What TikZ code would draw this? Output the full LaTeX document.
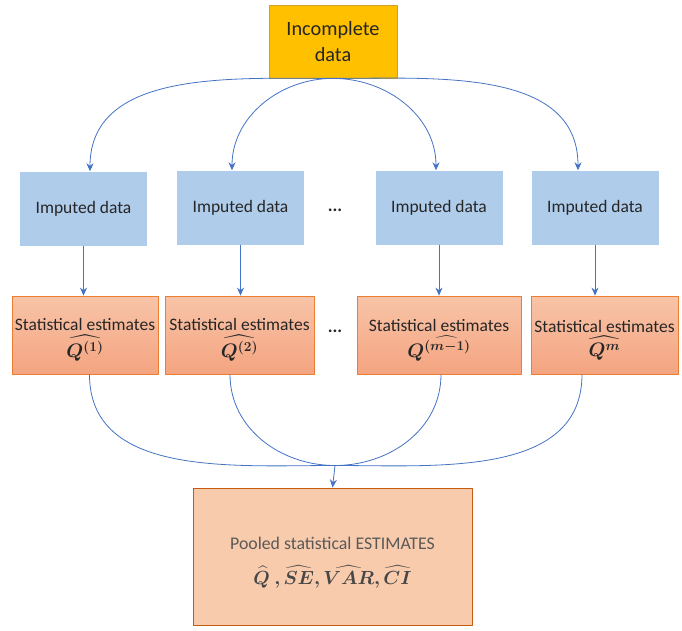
\RequirePackage{fix-cm}
\documentclass[tikz,border=0pt]{standalone}
\usepackage{amsmath,bm}
\usepackage{fontspec}
\setmainfont{Carlito}
\usetikzlibrary{arrows.meta}
\definecolor{flowblue}{HTML}{4472C4}
\definecolor{imputedfill}{HTML}{AFCCEA}
\definecolor{sourcegold}{HTML}{FFC000}
\definecolor{sourceedge}{HTML}{C9A227}
\definecolor{estimtop}{HTML}{F8C4A8}
\definecolor{estimbottom}{HTML}{F4A480}
\definecolor{estimedge}{HTML}{ED7D31}
\definecolor{pooledfill}{HTML}{F8CBAD}
\definecolor{pooledge}{HTML}{C55A11}
\definecolor{boxtext}{HTML}{262626}
\definecolor{pooledtext}{HTML}{595959}

\newcommand{\estmath}[1]{{\fontsize{19.5}{22}\selectfont$\bm{#1}$}}

\begin{document}
\begin{tikzpicture}[
  x=1pt,
  y=-1pt,
  line join=round,
  every node/.style={font=\fontsize{17.5}{21}\selectfont,text=boxtext,align=center,inner sep=0pt},
  source/.style={fill=sourcegold,draw=sourceedge,line width=0.8pt,minimum width=128pt,minimum height=73pt,font=\fontsize{20.3}{26}\selectfont},
  imputed/.style={fill=imputedfill,draw=none,minimum width=127pt,minimum height=73pt},
  estim/.style={top color=estimtop,bottom color=estimbottom,draw=estimedge,line width=0.8pt,minimum height=78pt},
  pooled/.style={fill=pooledfill,draw=pooledge,line width=0.9pt,minimum width=279pt,minimum height=137pt,text=pooledtext,font=\fontsize{17.8}{21}\selectfont},
  gap/.style={font=\fontsize{18}{20}\bfseries\selectfont},
  flow/.style={draw=flowblue,line width=0.8pt,-{Stealth[length=8pt,width=7pt]}},
  merge/.style={draw=flowblue,line width=0.8pt}
]
  \useasboundingbox (0,0) rectangle (682,631);

  % Source data.
  \node[source] (source) at (333,41.5) {Incomplete\\data};

  % Imputed data sets.
  \node[imputed] (imp1) at (83.5,209) {Imputed data};
  \node[imputed] (imp2) at (240.5,208) {Imputed data};
  \node[imputed] (imp3) at (439,208) {Imputed data};
  \node[imputed] (imp4) at (595,208) {Imputed data};
  \node[gap] (impgap) at (335,210) {...};

  % Estimates per imputed set.
  \node[estim,minimum width=146pt] (est1) at (85,335)
    {\rule{0pt}{22pt}Statistical estimates\\[3pt] \estmath{\widehat{Q^{(1)}}}};
  \node[estim,minimum width=149pt] (est2) at (239.5,335)
    {\rule{0pt}{22pt}Statistical estimates\\[3pt] \estmath{\widehat{Q^{(2)}}}};
  \node[estim,minimum width=164pt] (est3) at (439,335)
    {\rule{0pt}{22pt}Statistical estimates\\[3pt] \estmath{Q^{\widehat{(m-1)}}}};
  \node[estim,minimum width=147pt] (est4) at (604.5,335)
    {\rule{0pt}{22pt}Statistical estimates\\[3pt] \estmath{\widehat{Q^{m}}}};
  \node[gap] (estgap) at (335,331) {...};

  % Pooled result.
  \node[pooled] (pool) at (332.5,556.5)
    {\rule{0pt}{24pt}Pooled statistical ESTIMATES\\[14pt]
     {\fontsize{19}{22}\selectfont\color{boxtext!85}$\bm{\widehat{Q}\ ,\widehat{SE},\widehat{VAR},\widehat{CI}}$}};
  \coordinate (join) at (335,465.5);

  % Imputation arrows fan out of the source box.
  \foreach \i/\dx in {1/6.5,2/-8.5} {
    \draw[flow] (source.south) to[out=180,in=90] ([xshift=\dx pt,yshift=1pt]imp\i.north);
  }
  \foreach \i/\dx in {3/-3,4/-17} {
    \draw[flow] (source.south) to[out=0,in=90] ([xshift=\dx pt,yshift=1pt]imp\i.north);
  }

  % Analysis of each imputed set.
  \foreach \i in {1,2,3,4} {
    \draw[flow] (imp\i.south) -- (imp\i.south |- est\i.north);
  }

  % Pooling curves meet above the result.
  \foreach \i/\dx in {1/4.5,2/-9.5} {
    \draw[merge] ([xshift=\dx pt]est\i.south) to[out=-90,in=180] (join);
  }
  \foreach \i/\dx in {3/2,4/-22.5} {
    \draw[merge] ([xshift=\dx pt]est\i.south) to[out=-90,in=0] (join);
  }
  \draw[flow] (join) -- (pool.north);
\end{tikzpicture}
\end{document}
